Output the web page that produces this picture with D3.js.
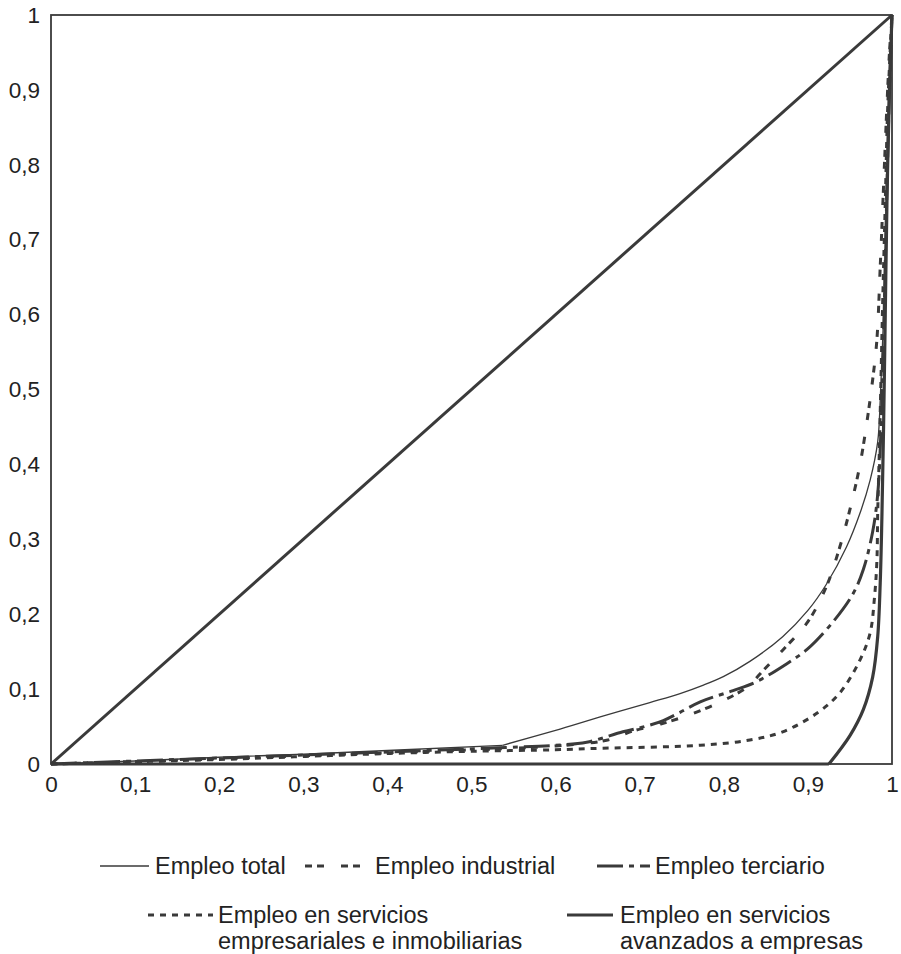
<!DOCTYPE html>
<html>
<head>
<meta charset="utf-8">
<script src="https://cdn.jsdelivr.net/npm/d3@7"></script>
<style>
  html, body { margin: 0; padding: 0; background: #fff; }
  svg { display: block; }
  text { font-family: "Liberation Sans", Arial, sans-serif; fill: #222; }
</style>
</head>
<body>
<svg id="chart" width="901" height="954"></svg>
<script>
// ---- Data (Lorenz curves: cumulative share of area vs cumulative share of employment) ----
const tickValues = [0, 0.1, 0.2, 0.3, 0.4, 0.5, 0.6, 0.7, 0.8, 0.9, 1];
const tickLabels = ["0", "0,1", "0,2", "0,3", "0,4", "0,5", "0,6", "0,7", "0,8", "0,9", "1"];

const equality = [[0, 0], [1, 1]];

const empleoTotal = [
  [0, 0], [0.1, 0.004], [0.2, 0.009], [0.3, 0.013], [0.4, 0.018], [0.537, 0.025],
  [0.6, 0.045], [0.653, 0.063], [0.712, 0.082], [0.748, 0.094], [0.775, 0.105],
  [0.8, 0.117], [0.831, 0.137], [0.87, 0.17], [0.9, 0.205], [0.922, 0.24],
  [0.946, 0.29], [0.962, 0.335], [0.974, 0.379], [0.983, 0.43], [0.986, 0.486],
  [0.99, 0.6], [0.993, 0.75], [0.997, 0.9], [1, 1]
];

const empleoIndustrial = [
  [0, 0], [0.1, 0.003], [0.2, 0.007], [0.3, 0.011], [0.4, 0.015], [0.55, 0.021],
  [0.6, 0.024], [0.662, 0.032], [0.692, 0.044], [0.724, 0.053], [0.76, 0.066],
  [0.8, 0.085], [0.828, 0.103], [0.847, 0.125], [0.87, 0.152], [0.9, 0.19],
  [0.922, 0.237], [0.938, 0.29], [0.95, 0.34], [0.962, 0.4], [0.971, 0.463],
  [0.977, 0.513], [0.982, 0.566], [0.986, 0.664], [0.988, 0.717], [0.991, 0.8],
  [0.994, 0.88], [0.997, 0.95], [1, 1]
];

const empleoTerciario = [
  [0, 0], [0.1, 0.004], [0.2, 0.008], [0.3, 0.012], [0.4, 0.016], [0.54, 0.022],
  [0.6, 0.025], [0.637, 0.029], [0.68, 0.043], [0.706, 0.05], [0.728, 0.058],
  [0.748, 0.069], [0.772, 0.083], [0.811, 0.098], [0.839, 0.11], [0.875, 0.134],
  [0.899, 0.153], [0.93, 0.19], [0.954, 0.228], [0.966, 0.26], [0.977, 0.31],
  [0.983, 0.36], [0.987, 0.45], [0.99, 0.57], [0.993, 0.72], [0.996, 0.86], [1, 1]
];

const empleoServEmpresariales = [
  [0, 0], [0.1, 0.003], [0.2, 0.006], [0.3, 0.01], [0.4, 0.014], [0.5, 0.017],
  [0.6, 0.019], [0.653, 0.021], [0.772, 0.025], [0.831, 0.032], [0.87, 0.043],
  [0.911, 0.068], [0.938, 0.095], [0.962, 0.139], [0.974, 0.175], [0.979, 0.22],
  [0.982, 0.27], [0.983, 0.335], [0.985, 0.42], [0.987, 0.52], [0.989, 0.62],
  [0.992, 0.75], [0.995, 0.88], [1, 1]
];

const empleoServAvanzados = [
  [0, 0], [0.925, 0], [0.95, 0.038], [0.966, 0.073], [0.977, 0.116], [0.983, 0.17],
  [0.986, 0.242], [0.988, 0.33], [0.99, 0.45], [0.992, 0.6], [0.994, 0.75],
  [0.997, 0.9], [1, 1]
];

const legendRow1 = ["Empleo total", "Empleo industrial", "Empleo terciario"];
const legendRow2 = [["Empleo en servicios", "empresariales e inmobiliarias"],
                    ["Empleo en servicios", "avanzados a empresas"]];

// ---- Layout ----
const svg = d3.select("#chart");
const plotLeft = 51, plotRight = 892, plotTop = 15, plotBottom = 764;
const ink = "#3a3a3a";

const x = d3.scaleLinear().domain([0, 1]).range([plotLeft, plotRight]);
const y = d3.scaleLinear().domain([0, 1]).range([plotBottom, plotTop]);

const styles = {
  total:   { w: 1.3, dash: null },
  ind:     { w: 3, dash: "7,5,7,17" },
  ter:     { w: 3, dash: "26,6,5,6" },
  emp:     { w: 3, dash: "6,6" },
  av:      { w: 3.2, dash: null }
};

// Frame
svg.append("rect")
  .attr("x", x(0)).attr("y", y(1))
  .attr("width", x(1) - x(0)).attr("height", y(0) - y(1))
  .attr("fill", "none").attr("stroke", ink).attr("stroke-width", 1.8);

// Axes (labels only, no ticks)
const xAxis = d3.axisBottom(x).tickValues(tickValues)
  .tickFormat((d, i) => tickLabels[i]).tickSize(0).tickPadding(12);
const gx = svg.append("g").attr("transform", `translate(0,${plotBottom})`).call(xAxis);
gx.select(".domain").remove();
gx.selectAll("text").attr("font-size", 22.5).attr("font-family", "Liberation Sans, Arial, sans-serif").attr("fill", "#222");

const yAxis = d3.axisLeft(y).tickValues(tickValues)
  .tickFormat((d, i) => tickLabels[i]).tickSize(0).tickPadding(11);
const gy = svg.append("g").attr("transform", `translate(${plotLeft},0)`).call(yAxis);
gy.select(".domain").remove();
gy.selectAll("text").attr("font-size", 22.5).attr("font-family", "Liberation Sans, Arial, sans-serif").attr("fill", "#222");

const line = d3.line().x(d => x(d[0])).y(d => y(d[1])).curve(d3.curveCatmullRom.alpha(0.5));
const straight = d3.line().x(d => x(d[0])).y(d => y(d[1]));

// Equality diagonal
svg.append("path").attr("d", straight(equality))
  .attr("fill", "none").attr("stroke", ink).attr("stroke-width", 3);

// draw a curve; the first `kinkAt` points are drawn straight so the curve keeps its corner
function draw(data, st, kinkAt) {
  const parts = kinkAt ? [[data.slice(0, kinkAt + 1), straight], [data.slice(kinkAt), line]]
                       : [[data, line]];
  parts.forEach(([pts, gen]) => {
    const p = svg.append("path").attr("d", gen(pts))
      .attr("fill", "none").attr("stroke", ink)
      .attr("stroke-width", st.w).attr("stroke-linejoin", "round");
    if (st.dash) p.attr("stroke-dasharray", st.dash);
  });
}
draw(empleoServAvanzados, styles.av, 1);
draw(empleoServEmpresariales, styles.emp);
draw(empleoIndustrial, styles.ind);
draw(empleoTerciario, styles.ter);
draw(empleoTotal, styles.total, 5);

// ---- Legend ----
const lg = svg.append("g");
function legendSym(x1, x2, yy, st) {
  const l = lg.append("line").attr("x1", x1).attr("x2", x2).attr("y1", yy).attr("y2", yy)
    .attr("stroke", ink).attr("stroke-width", st.w);
  if (st.dash) l.attr("stroke-dasharray", st.dash);
}
const fs = 23.5;
const r1 = 866;
legendSym(100, 149, r1, styles.total);
lg.append("text").attr("x", 155).attr("y", r1).attr("dy", "0.35em").attr("font-size", fs).text(legendRow1[0]);
legendSym(305, 370, r1, styles.ind);
lg.append("text").attr("x", 375).attr("y", r1).attr("dy", "0.35em").attr("font-size", fs).text(legendRow1[1]);
legendSym(597, 650, r1, styles.ter);
lg.append("text").attr("x", 655).attr("y", r1).attr("dy", "0.35em").attr("font-size", fs).text(legendRow1[2]);

const r2 = 915;
const lh = 26;
legendSym(148, 213, r2, styles.emp);
lg.append("text").attr("x", 218).attr("y", r2).attr("dy", "0.35em").attr("font-size", fs).text(legendRow2[0][0]);
lg.append("text").attr("x", 218).attr("y", r2 + lh).attr("dy", "0.35em").attr("font-size", fs).text(legendRow2[0][1]);
legendSym(567, 613, r2, styles.av);
lg.append("text").attr("x", 620).attr("y", r2).attr("dy", "0.35em").attr("font-size", fs).text(legendRow2[1][0]);
lg.append("text").attr("x", 620).attr("y", r2 + lh).attr("dy", "0.35em").attr("font-size", fs).text(legendRow2[1][1]);
</script>
</body>
</html>
